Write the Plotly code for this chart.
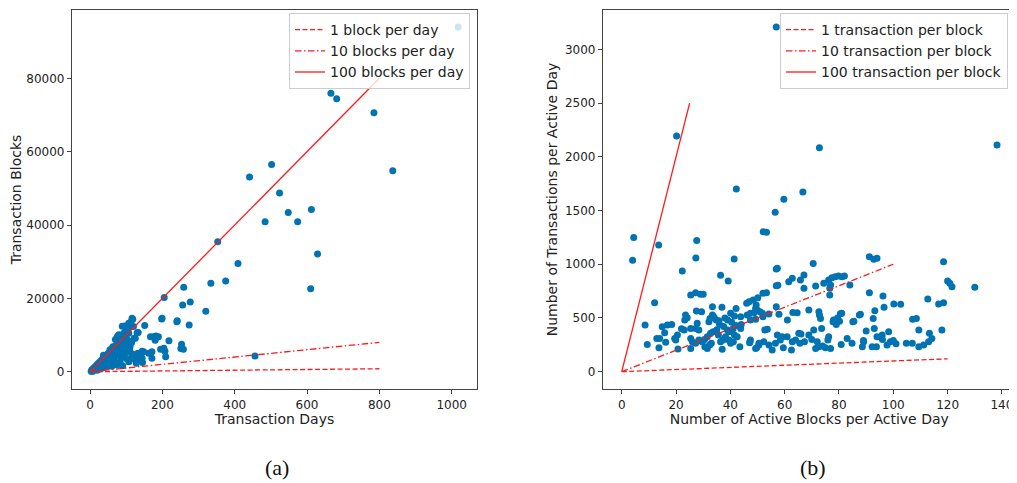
import plotly.graph_objects as go

# ---------------- data: panel (a) ----------------
left_days = [1018, 666, 682, 785, 837, 502, 441, 524, 548, 612, 484, 574, 629, 610, 353, 409, 334, 375,
             259, 205, 277, 256, 320, 198, 241, 274, 151, 456, 218, 253, 251, 258, 195, 207, 209, 175, 189,
             182, 180, 171, 171,
             118, 111, 89, 104, 133, 122, 105, 75, 75, 88, 63, 73, 92, 111, 132, 144, 140, 100, 107, 128, 83,
             51, 37, 95, 100, 115, 80, 98, 90, 70, 60, 50, 45, 40, 35, 30, 25, 20, 15, 10, 5, 8, 12, 18, 22,
             28, 33, 38, 44, 48, 55, 58, 62, 66, 70, 78, 85, 95, 100, 110, 120, 125, 135, 145, 40, 30, 20, 60,
             75, 90, 25, 15, 10, 3, 6, 50, 65, 82, 55, 70, 85, 120, 112,
             125, 130, 111, 107, 116, 107, 130, 144, 142, 148, 162, 167, 79, 93, 107, 96, 107, 116, 102, 84,
             88, 79, 93, 65, 56, 199, 204, 240]
left_blocks = [94000, 75900, 74400, 70600, 54800, 56500, 53100, 48700, 43400, 44200, 40900, 40900, 32100,
               22600, 35400, 29500, 24100, 24700, 23000, 20200, 19000, 18200, 16500, 14400, 13900, 12700,
               12600, 4300, 8450, 7500, 6300, 6100, 6100, 5600, 4100, 9500, 9500, 9700, 8600, 5450, 3650,
               14300, 12700, 12400, 11400, 10700, 9100, 8500, 9500, 8200, 7700, 6800, 5900, 5500, 5400, 5000,
               5600, 4100, 3600, 2700, 2300, 2700, 4100, 4500, 10500, 9200, 8000, 10000, 12200, 9800, 7000,
               5500, 5000, 4200, 3800, 3500, 3000, 2500, 2000, 1500, 1000, 500, 300, 700, 1200, 900, 1600,
               2200, 2600, 3000, 1500, 2200, 3200, 4000, 3500, 2500, 4500, 4000, 4800, 6500, 6500, 4700, 3200,
               3800, 2500, 1200, 800, 400, 1500, 1800, 1600, 1800, 900, 500, 100, 50, 3500, 5200, 6300, 6000,
               8800, 8900, 12300, 13500,
               9100, 10600, 7280, 5450, 4550, 3200, 3200, 3650, 5000, 5450, 5000, 9540, 10000, 10470, 10470,
               12460, 13200, 14560, 8200, 8200, 6820, 5900, 5450, 5450, 3650, 14560, 6380, 13600]

left_ref_names = ["1 block per day", "10 blocks per day", "100 blocks per day"]
left_ref_slopes = [1, 10, 100]
left_ref_xend = [800, 800, 800]

# ---------------- data: panel (b) ----------------
right_pts = [
    (56.9, 3208), (20.2, 2193), (72.8, 2085), (138.2, 2110), (42.2, 1700), (66.7, 1672), (59.7, 1604),
    (56.5, 1483), (52.1, 1303), (53.3, 1297), (4.4, 1250), (13.6, 1179), (27.6, 1222), (4.0, 1036),
    (27.3, 1058), (41.4, 1049), (22.3, 937), (36.4, 897), (39.2, 844), (12.1, 642), (8.6, 434), (9.4, 254),
    (91.2, 1070), (92.8, 1046), (94.0, 1055), (118.5, 1024), (120.0, 844), (120.8, 822), (121.6, 791),
    (130, 785), (112.7, 676), (100.2, 630), (102.7, 627), (116.7, 630), (118.5, 642), (117.9, 388),
    (107.1, 487), (108.5, 496), (109.4, 388), (104.8, 264), (107, 264), (109.4, 233), (111.2, 248),
    (113.0, 279), (114.2, 310), (113.3, 357), (96.2, 704), (91.2, 735), (96.6, 599), (92.6, 496),
    (93.2, 568), (87.5, 527), (87.9, 534), (84.0, 807), (85.1, 465), (90, 378), (93.0, 403), (94.0, 326),
    (95.9, 341), (98.3, 372), (98.9, 279), (97.7, 248), (93.8, 233), (92.2, 233), (88.6, 233), (89.1, 279),
    (83, 310), (84.8, 264), (80.8, 254), (76.9, 217), (75, 223), (76.2, 326), (75.9, 295), (73.6, 403),
    (72, 279), (72.6, 233), (71.4, 217), (70.7, 388), (68.9, 341), (67.3, 279), (65.2, 357), (65.6, 264),
    (64, 295), (62.8, 279), (62.5, 202), (60.9, 326), (59.1, 326), (58.4, 295), (57.3, 341), (56.6, 264),
    (55.4, 202), (59.5, 223), (54.2, 248), (52.3, 279), (50.5, 248), (49.3, 217), (47.2, 279), (53.6, 394),
    (52.7, 388), (54.2, 537), (57.9, 534), (56.9, 955), (57.3, 962), (56.9, 800), (57.5, 805), (56.9, 605),
    (61.5, 838), (62.8, 869), (65.8, 853), (67.1, 900), (67.1, 776), (64.6, 549), (68.9, 574), (71.4, 797),
    (70.5, 1008), (74.4, 822), (76.2, 853), (77.4, 875), (78.6, 884), (79.8, 890), (81.1, 884), (76.9, 807),
    (76.6, 776), (76.6, 714), (79.5, 500), (80.2, 470), (80.5, 540), (79, 440), (77.8, 465), (72.6, 558),
    (72.8, 527), (73.2, 496), (25.4, 714), (27.2, 735), (30, 720), (29, 720), (23.5, 527), (24.1, 503),
    (23.2, 481), (27.5, 565), (29.4, 558), (33.4, 605), (36.9, 599), (42.1, 589), (40.1, 543), (41.5, 518),
    (33.4, 527), (34, 506), (34.8, 481), (35.8, 475), (38, 500), (39, 480), (40.5, 460), (32.5, 496),
    (32.1, 465), (27.8, 450), (27.2, 403), (25.4, 403), (23, 388), (28.4, 388), (16.8, 434), (18.4, 440),
    (14.9, 419), (15.8, 363), (14, 310), (12.9, 310), (13.7, 223), (16.2, 273), (19.5, 310), (20.5, 341),
    (19.9, 295), (20.7, 211), (25.4, 217), (25.4, 310), (26, 279), (27.2, 264), (28.4, 295), (29.6, 279),
    (30.6, 233), (31.5, 217), (32.4, 248), (33, 264), (33.7, 372), (35.6, 341), (36.4, 279), (37.3, 295),
    (37, 208), (38.2, 326), (39.5, 295), (40.1, 264), (41.1, 279), (38.9, 388), (39.5, 372), (41.5, 341),
    (42.5, 326), (43.5, 233), (47.1, 270), (47.4, 295), (49.7, 223), (50.5, 264), (46, 636), (46.9, 652),
    (48.4, 667), (50.1, 689), (52, 729), (53.3, 735), (46.2, 527), (47.4, 543), (48.7, 549), (49.9, 574),
    (50.9, 558), (51.8, 543), (49.3, 589), (49.5, 620), (52, 512), (47.4, 481), (49.3, 487), (43.8, 512),
    (43.8, 403), (32.7, 357), (31.5, 326), (36, 440), (37.5, 420), (41, 400), (42, 430), (30.5, 300),
    (22, 400), (35, 390), (44, 440), (63, 550), (61, 480), (66, 350), (70, 300), (74, 240), (78, 480),
    (81, 545), (82, 890), (85.5, 470), (89, 290), (96, 300), (100, 290), (101, 260)]
right_blocks_per_day = [p[0] for p in right_pts]
right_tx_per_day = [p[1] for p in right_pts]

right_ref_names = ["1 transaction per block", "10 transaction per block", "100 transaction per block"]
right_ref_slopes = [1, 10, 100]
right_ref_xend = [120, 100, 25]

ref_dashes = ["5px,2.5px", "6.5px,2.5px,1.5px,2.5px", "solid"]

# ---------------- styling ----------------
# the page body adds an 8px margin, so the figure is drawn 8px right/down of the window corner
OFF = 8
W, H = 1017 - OFF, 483 - OFF
BLUE = "#0173B2"
RED = "#FF1A1A"
AX = "#444444"
FONT = "DejaVu Sans"

def px_x(p):
    return (p - OFF) / W

def px_y(p):
    return 1 - (p - OFF) / H

fig = go.Figure()

fig.add_trace(go.Scatter(x=left_days, y=left_blocks, mode="markers", showlegend=False,
                         marker=dict(color=BLUE, size=7, line=dict(width=0)),
                         xaxis="x", yaxis="y"))
for name, s, xe, d in zip(left_ref_names, left_ref_slopes, left_ref_xend, ref_dashes):
    fig.add_trace(go.Scatter(x=[0, xe], y=[0, s * xe], mode="lines", name=name,
                             line=dict(color=RED, width=1.3, dash=d),
                             xaxis="x", yaxis="y", legend="legend"))

fig.add_trace(go.Scatter(x=right_blocks_per_day, y=right_tx_per_day, mode="markers", showlegend=False,
                         marker=dict(color=BLUE, size=7, line=dict(width=0)),
                         xaxis="x2", yaxis="y2"))
for name, s, xe, d in zip(right_ref_names, right_ref_slopes, right_ref_xend, ref_dashes):
    fig.add_trace(go.Scatter(x=[0, xe], y=[0, s * xe], mode="lines", name=name,
                             line=dict(color=RED, width=1.3, dash=d),
                             xaxis="x2", yaxis="y2", legend="legend2"))

axis_common = dict(showline=True, mirror=True, linecolor=AX, linewidth=1.2,
                   ticks="outside", ticklen=4, tickwidth=1, tickcolor=AX,
                   showgrid=False, zeroline=False, automargin=False, tickformat="d",
                   tickfont=dict(family=FONT, size=12, color="#222"),
                   title_font=dict(family=FONT, size=14, color="#222"))

ydom = [px_y(389), px_y(10)]

legend_common = dict(xanchor="right", y=px_y(13), yanchor="top",
                     bgcolor="rgba(255,255,255,0.8)", bordercolor="#cccccc", borderwidth=1,
                     font=dict(family=FONT, size=14, color="#222"), tracegroupgap=0, itemwidth=30)

fig.update_layout(
    width=W, height=H,
    margin=dict(l=0, r=0, t=0, b=0, autoexpand=False),
    paper_bgcolor="white", plot_bgcolor="white",
    xaxis=dict(domain=[px_x(72), px_x(477)], range=[-50, 1070], tickvals=[0, 200, 400, 600, 800, 1000],
               title=dict(text="Transaction Days", standoff=3), anchor="y", **axis_common),
    yaxis=dict(domain=ydom, range=[-4720, 98630], tickvals=[0, 20000, 40000, 60000, 80000],
               title=dict(text="Transaction Blocks", standoff=6), anchor="x", **axis_common),
    xaxis2=dict(domain=[px_x(603), px_x(1015.5)], range=[-6.9, 145], tickvals=[0, 20, 40, 60, 80, 100, 120, 140],
                title=dict(text="Number of Active Blocks per Active Day", standoff=3), anchor="y2", **axis_common),
    yaxis2=dict(domain=ydom, range=[-161, 3366], tickvals=[0, 500, 1000, 1500, 2000, 2500, 3000],
                title=dict(text="Number of Transactions per Active Day", standoff=4), anchor="x2", **axis_common),
    legend=dict(x=px_x(470), **legend_common),
    legend2=dict(x=px_x(1008), **legend_common),
    annotations=[
        dict(text="(a)", x=px_x(277), y=px_y(467), xref="paper", yref="paper", showarrow=False,
             xanchor="center", yanchor="middle",
             font=dict(family="Liberation Serif", size=22, color="#111")),
        dict(text="(b)", x=px_x(813), y=px_y(467), xref="paper", yref="paper", showarrow=False,
             xanchor="center", yanchor="middle",
             font=dict(family="Liberation Serif", size=22, color="#111")),
    ],
)

fig.write_html("out.html")
